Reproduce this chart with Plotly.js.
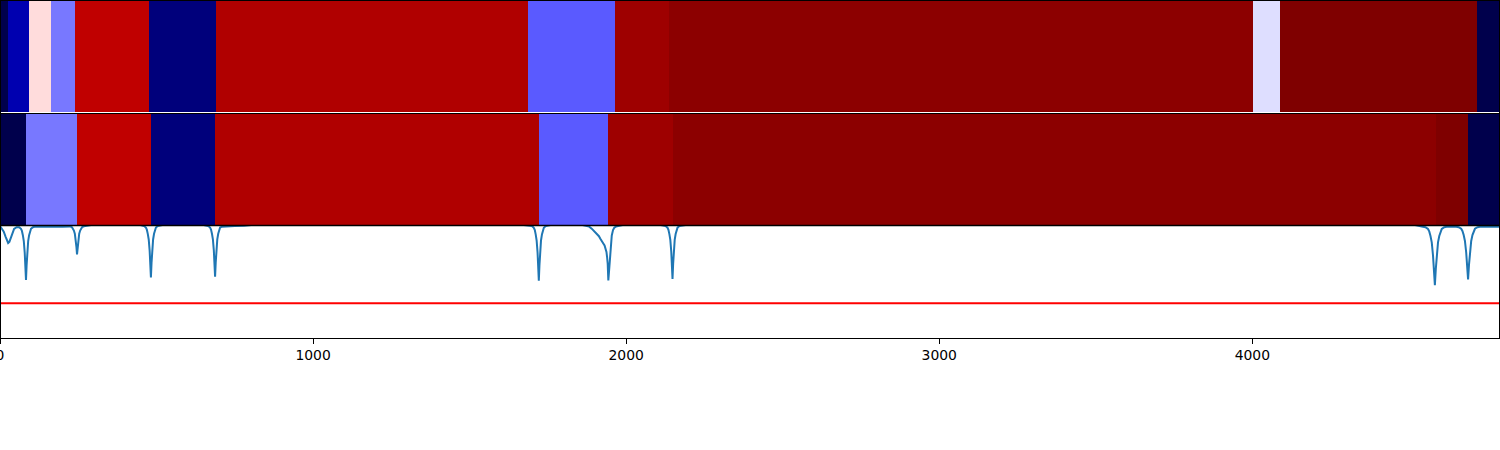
<!DOCTYPE html>
<html>
<head>
<meta charset="utf-8">
<script src="https://cdn.plot.ly/plotly-3.0.1.min.js"></script>
<style>html,body{margin:0;padding:0;background:#fff;}#chart{width:1500px;height:450px;}</style>
</head>
<body>
<div id="chart"></div>
<script>
// ---- data ----
const xMax = 4791;
const tickValues = [0, 1000, 2000, 3000, 4000];
const tickLabels = ["0", "1000", "2000", "3000", "4000"];

// top row segments (bin edges) and their colour values (0..1 on seismic scale)
const topEdges = [0, 25, 92, 163, 240, 476, 690, 1687, 1965, 2138, 4003, 4089, 4716, 4791];
const topValues = [0.0, 0.139, 0.534, 0.368, 0.874, 0.065, 0.905, 0.338, 0.94, 0.975, 0.468, 1.0, 0.0];

// middle row segments
const midEdges = [0, 83, 246, 482, 687, 1722, 1942, 2150, 4585, 4690, 4791];
const midValues = [0.0, 0.368, 0.874, 0.065, 0.905, 0.338, 0.94, 0.975, 1.0, 0.0];

// bottom line
const lineX = [0,6,12,18,22,26,30,35,40,45,53,
  61,67,70,73,76,79,81,83,85,87,90,93,96,99,105,113,200,
  224,230,233,236,239,242,244,246,248,250,253,256,259,262,268,280,300,440,
  452,460,466,469,472,475,478,480,482,484,486,489,492,495,498,504,512,530,640,
  657,665,671,674,677,680,683,685,687,689,691,694,697,700,703,709,720,750,780,820,1660,
  1690,1699,1705,1708,1711,1714,1717,1719,1721,1723,1725,1728,1731,1734,1737,1743,1752,1770,1850,
  1874,1882,1890,1896,1900,1906,1910,1913,1917,1920,1924,1927,1931,1934,1937,1939,1941,1943,1945,1947,1949,1952,1954,1958,1962,1967,1981,2000,2100,
  2118,2126,2132,2135,2138,2141,2144,2146,2148,2150,2152,2155,2158,2161,2164,2170,2178,2200,4480,
  4520,4541,4553,4561,4565,4569,4573,4577,4580,4583,4586,4589,4593,4597,4601,4605,4613,4625,
  4647,4659,4667,4671,4675,4679,4683,4686,4689,4692,4695,4699,4703,4707,4711,4719,4731,4791];
const lineY = [0.995,0.975,0.945,0.9,0.865,0.845,0.855,0.895,0.94,0.97,0.985,
  0.985,0.971,0.952,0.914,0.862,0.757,0.648,0.515,0.648,0.757,0.862,0.914,0.952,0.971,0.985,0.99,0.99,
  0.992,0.985,0.975,0.955,0.928,0.872,0.813,0.743,0.813,0.872,0.928,0.955,0.975,0.985,0.993,1.0,1.01,1.01,
  1.0,0.995,0.982,0.963,0.926,0.876,0.774,0.668,0.539,0.668,0.774,0.876,0.926,0.963,0.982,0.995,1.0,1.01,1.01,
  1.0,0.995,0.982,0.964,0.927,0.877,0.777,0.672,0.544,0.672,0.777,0.877,0.927,0.964,0.982,0.99,0.993,0.995,0.998,1.01,1.01,
  1.0,0.995,0.98,0.961,0.921,0.867,0.759,0.646,0.509,0.646,0.759,0.867,0.921,0.961,0.98,0.995,1.0,1.01,1.01,
  1.0,0.99,0.972,0.955,0.948,0.932,0.915,0.905,0.885,0.874,0.86,0.84,0.822,0.8,0.765,0.72,0.66,0.512,0.6,0.69,0.75,0.85,0.912,0.96,0.98,0.99,1.0,1.01,1.01,
  1.0,0.995,0.981,0.962,0.924,0.872,0.768,0.659,0.526,0.659,0.768,0.872,0.924,0.962,0.981,0.995,1.0,1.01,1.01,
  1.005,0.99,0.985,0.969,0.948,0.907,0.85,0.735,0.616,0.47,0.616,0.735,0.85,0.907,0.948,0.969,0.985,0.99,
  0.99,0.985,0.971,0.952,0.915,0.863,0.76,0.652,0.521,0.652,0.76,0.863,0.915,0.952,0.971,0.985,0.99,0.99];

const threshold = 0.31;

// ---- styling ----
const seismic = [[0, 'rgb(0,0,76)'], [0.25, 'rgb(0,0,255)'], [0.5, 'rgb(255,255,255)'], [0.75, 'rgb(255,0,0)'], [1, 'rgb(127,0,0)']];

const traces = [
  {type: 'heatmap', x: topEdges, y: [0, 1], z: [topValues], colorscale: seismic, zmin: 0, zmax: 1,
   showscale: false, xaxis: 'x3', yaxis: 'y3', hoverinfo: 'skip'},
  {type: 'heatmap', x: midEdges, y: [0, 1], z: [midValues], colorscale: seismic, zmin: 0, zmax: 1,
   showscale: false, xaxis: 'x2', yaxis: 'y2', hoverinfo: 'skip'},
  {type: 'scatter', mode: 'lines', x: lineX, y: lineY, xaxis: 'x', yaxis: 'y',
   line: {color: '#1f77b4', width: 2}, hoverinfo: 'skip'},
  {type: 'scatter', mode: 'lines', x: [0, xMax], y: [threshold, threshold], xaxis: 'x', yaxis: 'y',
   line: {color: '#ff0000', width: 2}, hoverinfo: 'skip'}
];

const hidden = {visible: false, range: [0, xMax], showgrid: false, zeroline: false};
const blk = (y, w) => ({type: 'line', xref: 'paper', yref: 'paper', x0: 0, x1: 1, y0: y, y1: y, line: {color: 'black', width: w}, layer: 'above'});

const layout = {
  width: 1500, height: 450,
  margin: {l: 0, r: 0, t: 0, b: 112, pad: 0},
  paper_bgcolor: 'white', plot_bgcolor: 'white',
  showlegend: false,
  font: {family: 'DejaVu Sans', color: 'black'},
  xaxis: {domain: [0, 1], range: [0, xMax], anchor: 'y', tickmode: 'array', tickvals: tickValues, ticktext: tickLabels,
          ticks: 'outside', ticklen: 5, tickwidth: 1, tickcolor: 'black', showline: true, linecolor: 'black', linewidth: 1,
          showgrid: false, zeroline: false, ticklabeloverflow: 'allow', ticklabelstandoff: -1,
          tickfont: {family: 'DejaVu Sans', size: 13.9, color: 'black'}},
  yaxis: {domain: [0, 0.3328], range: [0, 1], anchor: 'x', showticklabels: false, ticks: '', showgrid: false, zeroline: false},
  xaxis2: Object.assign({anchor: 'y2', domain: [0, 1]}, hidden),
  yaxis2: {domain: [0.33432, 0.66568], range: [0, 1], anchor: 'x2', visible: false},
  xaxis3: Object.assign({anchor: 'y3', domain: [0, 1]}, hidden),
  yaxis3: {domain: [0.66864, 1], range: [0, 1], anchor: 'x3', visible: false},
  shapes: [
    blk(1, 2), blk(0.6642, 1), blk(0.33284, 1.3),
    {type: 'line', xref: 'paper', yref: 'paper', x0: 0, x1: 0, y0: 0, y1: 1, line: {color: 'black', width: 2}, layer: 'above'},
    {type: 'line', xref: 'paper', yref: 'paper', x0: 1, x1: 1, y0: 0, y1: 1, line: {color: 'black', width: 2}, layer: 'above'}
  ]
};

Plotly.newPlot('chart', traces, layout, {staticPlot: true, displayModeBar: false});
</script>
</body>
</html>
